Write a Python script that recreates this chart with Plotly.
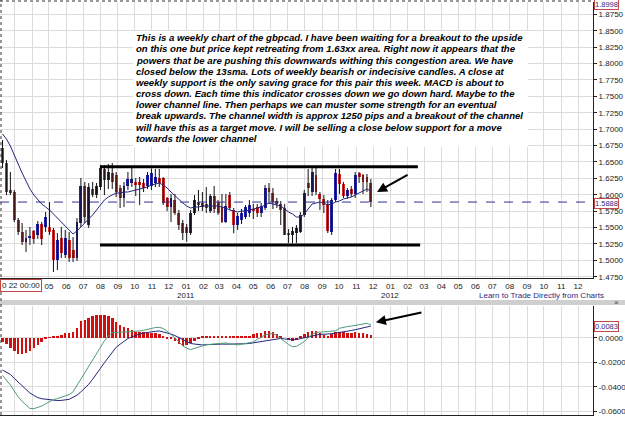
import plotly.graph_objects as go
import pandas as pd

# ---------------- data ----------------
week_start = "2010-02-07"
n_weeks = 95
weeks = pd.date_range(week_start, periods=n_weeks, freq="7D")

open_ = [1.6712, 1.6483, 1.6071, 1.6041, 1.5614, 1.5432, 1.5279, 1.5340, 1.5447, 1.5386,
         1.5553, 1.5508, 1.5508, 1.5462, 1.5005, 1.5340, 1.5081, 1.5310, 1.5157, 1.5035,
         1.5569, 1.6133, 1.5538, 1.6087, 1.5995, 1.6117, 1.6392, 1.6224, 1.6331, 1.6300,
         1.6102, 1.5950, 1.6133, 1.6178, 1.6194, 1.6194, 1.6178, 1.6133, 1.6133, 1.6178,
         1.6255, 1.6255, 1.5950, 1.5812, 1.5919, 1.5721, 1.5569, 1.5508, 1.5416, 1.5721,
         1.5889, 1.5873, 1.5858, 1.5751, 1.5980, 1.5889, 1.5812, 1.5584, 1.5995, 1.5767,
         1.5538, 1.5614, 1.5660, 1.5721, 1.5782, 1.5812, 1.5721, 1.5797, 1.6102, 1.6026,
         1.5904, 1.5858, 1.5797, 1.5416, 1.5386, 1.5416, 1.5432, 1.5691, 1.6178, 1.6041,
         1.6300, 1.6011, 1.5935, 1.5858, 1.5432, 1.5919, 1.6316, 1.6163, 1.5980, 1.6087,
         1.6011, 1.6331, 1.6300, 1.6270, 1.6178]
high = [1.6834, 1.6529, 1.6346, 1.6071, 1.5645, 1.5568, 1.5462, 1.5508, 1.5462, 1.5599,
        1.5584, 1.5736, 1.5889, 1.5493, 1.5416, 1.5508, 1.5462, 1.5432, 1.5355, 1.5645,
        1.6255, 1.6194, 1.6178, 1.6194, 1.6178, 1.6453, 1.6453, 1.6468, 1.6483, 1.6346,
        1.6148, 1.6194, 1.6346, 1.6407, 1.6255, 1.6270, 1.6239, 1.6346, 1.6400, 1.6392,
        1.6392, 1.6270, 1.5965, 1.6011, 1.6011, 1.5767, 1.5614, 1.5553, 1.5767, 1.5995,
        1.6072, 1.6041, 1.6117, 1.6011, 1.6133, 1.5919, 1.6011, 1.6011, 1.6041, 1.5797,
        1.5721, 1.5782, 1.5843, 1.5919, 1.5858, 1.5858, 1.5873, 1.6148, 1.6178, 1.6102,
        1.5950, 1.5904, 1.5858, 1.5477, 1.5508, 1.5538, 1.5736, 1.6072, 1.6392, 1.6407,
        1.6407, 1.6041, 1.5995, 1.5919, 1.5950, 1.6392, 1.6392, 1.6194, 1.6102, 1.6133,
        1.6346, 1.6346, 1.6316, 1.6316, 1.6239]
low = [1.6407, 1.5995, 1.5995, 1.5584, 1.5386, 1.5233, 1.5127, 1.5233, 1.5249, 1.5325,
       1.5233, 1.5432, 1.5386, 1.4822, 1.4852, 1.5035, 1.5035, 1.4974, 1.4974, 1.4990,
       1.5508, 1.5569, 1.5493, 1.5965, 1.5950, 1.6072, 1.5995, 1.6087, 1.6087, 1.5965,
       1.5797, 1.5812, 1.6072, 1.6117, 1.5980, 1.5843, 1.6041, 1.6087, 1.6072, 1.6117,
       1.6117, 1.5843, 1.5751, 1.5584, 1.5691, 1.5462, 1.5310, 1.5284, 1.5386, 1.5691,
       1.5751, 1.5751, 1.5721, 1.5721, 1.5721, 1.5691, 1.5569, 1.5569, 1.5767, 1.5411,
       1.5462, 1.5553, 1.5630, 1.5660, 1.5630, 1.5660, 1.5660, 1.5767, 1.5858, 1.5782,
       1.5797, 1.5538, 1.5386, 1.5264, 1.5259, 1.5264, 1.5416, 1.5660, 1.5980, 1.5980,
       1.5995, 1.5767, 1.5721, 1.5416, 1.5386, 1.5889, 1.6011, 1.5950, 1.5935, 1.5965,
       1.5950, 1.6178, 1.6011, 1.6041, 1.5812]
close = [1.6483, 1.6041, 1.6026, 1.5614, 1.5432, 1.5279, 1.5340, 1.5371, 1.5325, 1.5553,
         1.5325, 1.5660, 1.5432, 1.5005, 1.5310, 1.5112, 1.5340, 1.5035, 1.5035, 1.5584,
         1.6133, 1.5660, 1.6117, 1.5995, 1.6133, 1.6407, 1.6224, 1.6346, 1.6194, 1.6041,
         1.5950, 1.6133, 1.6239, 1.6239, 1.6148, 1.6148, 1.6102, 1.6300, 1.6331, 1.6270,
         1.6178, 1.5870, 1.5812, 1.5950, 1.5721, 1.5538, 1.5416, 1.5416, 1.5721, 1.5919,
         1.5843, 1.5812, 1.5797, 1.5980, 1.5782, 1.5721, 1.5584, 1.5827, 1.5797, 1.5538,
         1.5675, 1.5721, 1.5812, 1.5843, 1.5751, 1.5721, 1.5827, 1.6102, 1.6041, 1.5889,
         1.5858, 1.5767, 1.5386, 1.5386, 1.5447, 1.5493, 1.5691, 1.6026, 1.6102, 1.6346,
         1.6041, 1.5935, 1.5843, 1.5447, 1.5919, 1.6326, 1.6163, 1.5980, 1.6072, 1.6011,
         1.6300, 1.6270, 1.6194, 1.6194, 1.5888]
sma13 = [1.6925, 1.6849, 1.6742, 1.6605, 1.6453, 1.6331, 1.6209, 1.6087, 1.5995, 1.5919,
         1.5858, 1.5812, 1.5767, 1.5706, 1.5645, 1.5584, 1.5523, 1.5462, 1.5401, 1.5447,
         1.5508, 1.5553, 1.5614, 1.5691, 1.5767, 1.5843, 1.5919, 1.5965, 1.5995, 1.6026,
         1.6026, 1.6041, 1.6041, 1.6057, 1.6072, 1.6087, 1.6102, 1.6117, 1.6148, 1.6163,
         1.6178, 1.6148, 1.6102, 1.6041, 1.5980, 1.5919, 1.5873, 1.5828, 1.5797, 1.5812,
         1.5812, 1.5828, 1.5828, 1.5828, 1.5828, 1.5828, 1.5812, 1.5797, 1.5767, 1.5751,
         1.5736, 1.5751, 1.5751, 1.5767, 1.5782, 1.5797, 1.5812, 1.5843, 1.5873, 1.5858,
         1.5843, 1.5828, 1.5782, 1.5736, 1.5706, 1.5660, 1.5660, 1.5706, 1.5782, 1.5858,
         1.5873, 1.5889, 1.5873, 1.5843, 1.5858, 1.5889, 1.5904, 1.5935, 1.5950, 1.5965,
         1.5995, 1.6026, 1.6057, 1.6087, 1.6057]
macd_hist = [-0.0034, -0.0048, -0.0081, -0.0107, -0.0130, -0.0135, -0.0128, -0.0108, -0.0083, -0.0060,
             -0.0036, -0.0014, -0.0001, 0.0008, 0.0015, 0.0024, 0.0040, 0.0040, 0.0050, 0.0077,
             0.0134, 0.0143, 0.0162, 0.0175, 0.0184, 0.0189, 0.0188, 0.0176, 0.0160, 0.0126,
             0.0102, 0.0090, 0.0080, 0.0064, 0.0045, 0.0043, 0.0044, 0.0041, 0.0041, 0.0035,
             0.0031, 0.0018, -0.0004, -0.0014, -0.0030, -0.0052, -0.0069, -0.0062, -0.0040, -0.0025,
             -0.0008, 0.0008, 0.0012, 0.0012, 0.0012, 0.0014, 0.0012, 0.0012, 0.0014, 0.0012,
             0.0014, 0.0016, 0.0016, 0.0018, 0.0027, 0.0035, 0.0041, 0.0053, 0.0054, 0.0044,
             0.0033, 0.0018, 0.0000, -0.0017, -0.0023, -0.0018, 0.0008, 0.0032, 0.0050, 0.0057,
             0.0054, 0.0040, 0.0022, 0.0017, 0.0033, 0.0047, 0.0049, 0.0043, 0.0041, 0.0041,
             0.0044, 0.0041, 0.0040, 0.0032, 0.0020]
macd_line = [-0.0308, -0.0345, -0.0386, -0.0435, -0.0483, -0.0519, -0.0551, -0.0578, -0.0579, -0.0569,
             -0.0558, -0.0540, -0.0521, -0.0505, -0.0497, -0.0487, -0.0478, -0.0465, -0.0442, -0.0389,
             -0.0335, -0.0282, -0.0230, -0.0176, -0.0122, -0.0072, -0.0026, 0.0015, 0.0041, 0.0043,
             0.0044, 0.0046, 0.0047, 0.0049, 0.0052, 0.0055, 0.0060, 0.0068, 0.0076, 0.0083,
             0.0084, 0.0076, 0.0052, 0.0029, -0.0001, -0.0033, -0.0066, -0.0086, -0.0097, -0.0087,
             -0.0076, -0.0065, -0.0058, -0.0054, -0.0050, -0.0046, -0.0043, -0.0043, -0.0050, -0.0055,
             -0.0059, -0.0053, -0.0047, -0.0041, -0.0035, -0.0014, 0.0006, 0.0023, 0.0029, 0.0034,
             0.0017, -0.0009, -0.0035, -0.0055, -0.0074, -0.0071, -0.0052, -0.0031, 0.0001, 0.0026,
             0.0043, 0.0046, 0.0049, 0.0049, 0.0049, 0.0056, 0.0077, 0.0087, 0.0091, 0.0095,
             0.0102, 0.0109, 0.0113, 0.0117, 0.0104]
signal_line = [-0.0264, -0.0280, -0.0300, -0.0332, -0.0364, -0.0394, -0.0424, -0.0452, -0.0471, -0.0489,
               -0.0498, -0.0503, -0.0508, -0.0511, -0.0513, -0.0512, -0.0507, -0.0503, -0.0486, -0.0469,
               -0.0442, -0.0415, -0.0380, -0.0339, -0.0299, -0.0250, -0.0204, -0.0160, -0.0118, -0.0078,
               -0.0053, -0.0027, -0.0007, 0.0007, 0.0021, 0.0030, 0.0037, 0.0045, 0.0048, 0.0052,
               0.0055, 0.0047, 0.0040, 0.0030, 0.0017, 0.0004, -0.0014, -0.0033, -0.0047, -0.0052,
               -0.0057, -0.0059, -0.0057, -0.0055, -0.0053, -0.0051, -0.0052, -0.0053, -0.0053, -0.0054,
               -0.0053, -0.0051, -0.0049, -0.0047, -0.0042, -0.0036, -0.0029, -0.0023, -0.0017, -0.0013,
               -0.0009, -0.0006, -0.0010, -0.0016, -0.0018, -0.0015, -0.0008, -0.0001, 0.0006, 0.0015,
               0.0025, 0.0028, 0.0028, 0.0029, 0.0033, 0.0038, 0.0042, 0.0047, 0.0053, 0.0059,
               0.0065, 0.0072, 0.0080, 0.0087, 0.0095]

last_price = 1.5888
last_macd_label = "0.0083"
top_price_label = "1.8998"

channel_levels = [1.6427, 1.5233]
channel_starts = ["2010-07-31", "2010-07-31"]
channel_ends = ["2012-02-19", "2012-02-23"]

# month tick labels shown (03 and 04 of 2010 sit under the date box)
month_ticks = pd.date_range("2010-05-01", "2012-12-01", freq="MS")
month_tick_text = [d.strftime("%m") for d in month_ticks]

price_ticks = [1.475, 1.500, 1.525, 1.550, 1.575, 1.600, 1.625, 1.650, 1.675, 1.700,
               1.725, 1.750, 1.775, 1.800, 1.825, 1.850, 1.875]
price_tick_text = ["1.4750", "1.5000", "1.5250", "1.5500", "1.5750", "1.6000", "1.6250",
                   "1.6500", "1.6750", "1.7000", "1.7250", "1.7500", "1.7750", "1.8000",
                   "1.8250", "1.8500", "1.8750"]
macd_ticks = [0.0, -0.02, -0.04, -0.06]
macd_tick_text = ["0.0000", "-0.0200", "-0.0400", "-0.0600"]

year_labels = ["2011", "2012"]
year_dates = ["2011-01-01", "2012-01-01"]

comment_lines = [
    "This is a weekly chart of the gbpcad. I have been waiting for a breakout to the upside",
    "on this one but price kept retreating from 1.63xx area. Right now it appears that the",
    "powers that be are pushing this downwards withing this congestion area. We have",
    "closed below the 13sma. Lots of weekly bearish or indecisive candles. A close at",
    "weekly support is the only saving grace for this pair this week. MACD is about to",
    "cross down. Each time this indicator crosses down we go down hard. Maybe to the",
    "lower channel line. Then perhaps we can muster some strength for an eventual",
    "break upwards. The channel width is approx 1250 pips and a breakout of the channel",
    "will have this as a target move. I will be selling a close below support for a move",
    "towards the lower channel",
]

# arrow heads (data coordinates)
price_arrow = ("2011-12-08", 1.6041)
macd_arrow = ("2011-12-06", 0.0126)

# ---------------- layout helpers ----------------
W, H = 625, 421
ML, MR, MT, MB = 0, 32, 2, 6
PW = W - ML - MR
PH = H - MT - MB


def px(x):
    return (x - ML) / PW


def py(y):
    return (H - MB - y) / PH


BLUE = "#2323a8"
RED = "#d42a2a"
NAVY = "#25257a"
GRID = "#dcdcdc"
FONT = "Liberation Sans, Arial, sans-serif"
X_RANGE = ["2010-02-02 12:00", "2012-12-27 19:00"]

fig = go.Figure()

# wicks
wx, wy = [], []
for d, h, l in zip(weeks, high, low):
    wx += [d, d, None]
    wy += [l, h, None]
fig.add_trace(go.Scatter(x=wx, y=wy, mode="lines", line=dict(color="#111111", width=1),
                         xaxis="x", yaxis="y", hoverinfo="skip", showlegend=False))

# bodies
up_x, up_b, up_h, dn_x, dn_b, dn_h = [], [], [], [], [], []
for d, o, c in zip(weeks, open_, close):
    if c >= o:
        up_x.append(d); up_b.append(o); up_h.append(c - o)
    else:
        dn_x.append(d); dn_b.append(c); dn_h.append(o - c)
bw = 5.2 * 86400000
fig.add_trace(go.Bar(x=up_x, y=up_h, base=up_b, width=bw, marker=dict(color=BLUE, line=dict(width=0)),
                     xaxis="x", yaxis="y", showlegend=False))
fig.add_trace(go.Bar(x=dn_x, y=dn_h, base=dn_b, width=bw, marker=dict(color=RED, line=dict(width=0)),
                     xaxis="x", yaxis="y", showlegend=False))

# 13 SMA
fig.add_trace(go.Scatter(x=weeks, y=sma13, mode="lines", line=dict(color=NAVY, width=1),
                         xaxis="x", yaxis="y", showlegend=False))

# MACD panel
fig.add_trace(go.Bar(x=weeks, y=macd_hist, width=4.5 * 86400000,
                     marker=dict(color="#d01010", line=dict(width=0)),
                     xaxis="x2", yaxis="y2", showlegend=False))
fig.add_trace(go.Scatter(x=weeks, y=signal_line, mode="lines", line=dict(color=NAVY, width=1),
                         xaxis="x2", yaxis="y2", showlegend=False))
fig.add_trace(go.Scatter(x=weeks, y=macd_line, mode="lines", line=dict(color="#4f9a78", width=1),
                         xaxis="x2", yaxis="y2", showlegend=False))

shapes = []
# channel lines
for lvl, s, e in zip(channel_levels, channel_starts, channel_ends):
    shapes.append(dict(type="line", xref="x", yref="y", x0=s, x1=e, y0=lvl, y1=lvl,
                       line=dict(color="black", width=3)))
# last price dashed line
shapes.append(dict(type="line", xref="paper", yref="y", x0=0, x1=1, y0=last_price, y1=last_price,
                   line=dict(color="#303090", width=1, dash="dash")))
# white backdrop for the comment
shapes.append(dict(type="rect", xref="paper", yref="paper", x0=px(133), x1=px(528),
                   y0=py(147), y1=py(31), fillcolor="white", line=dict(width=0), layer="above"))
# separator band between panels
shapes.append(dict(type="rect", xref="paper", yref="paper", x0=0, x1=W / PW,
                   y0=py(305), y1=py(300), fillcolor="#cfcfcf", line=dict(width=0)))
# dashed borders left/top
shapes.append(dict(type="line", xref="paper", yref="paper", x0=px(1), x1=px(1), y0=py(415), y1=py(0),
                   line=dict(color="#333333", width=1, dash="dot")))
shapes.append(dict(type="line", xref="paper", yref="paper", x0=0, x1=1, y0=py(1), y1=py(1),
                   line=dict(color="#333333", width=1, dash="dot")))

annotations = []
for k, line in enumerate(comment_lines):
    annotations.append(dict(xref="paper", yref="paper", x=px(134), y=py(37.7 + 11.18 * k),
                            xanchor="left", yanchor="middle", showarrow=False, text=line,
                            font=dict(family=FONT, size=9.6, color="black", weight="bold",
                                      style="italic")))
# arrows
annotations.append(dict(xref="x", yref="y", x=price_arrow[0], y=price_arrow[1], ax=32, ay=-18,
                        showarrow=True, arrowhead=2, arrowsize=1, arrowwidth=2, arrowcolor="black",
                        text=""))
annotations.append(dict(xref="x2", yref="y2", x=macd_arrow[0], y=macd_arrow[1], ax=47, ay=-10,
                        showarrow=True, arrowhead=2, arrowsize=1, arrowwidth=2, arrowcolor="black",
                        text=""))
# year labels
for lab, d in zip(year_labels, year_dates):
    annotations.append(dict(xref="x", yref="paper", x=d, y=py(295), text=lab, showarrow=False,
                            xanchor="center", yanchor="middle",
                            font=dict(family=FONT, size=8, color="#222222")))
annotations.append(dict(xref="paper", yref="paper", x=px(541), y=py(295),
                        xanchor="center", yanchor="middle",
                        text="Learn to Trade Directly from Charts", showarrow=False,
                        font=dict(family=FONT, size=8, color="#2a2a88")))
# date box on the left
annotations.append(dict(xref="paper", yref="paper", x=px(0), y=py(285.5), xanchor="left",
                        yanchor="middle", text="0 22 00:00", showarrow=False, bgcolor="white",
                        bordercolor="#c04848", borderwidth=1, borderpad=1,
                        font=dict(family=FONT, size=8, color="#222222")))
# value boxes on the right axis
for lab, yy in [(str(last_price), 203), (last_macd_label, 326), (top_price_label, 5)]:
    annotations.append(dict(xref="paper", yref="paper", x=px(594), y=py(yy), xanchor="left",
                            yanchor="middle", text=lab, showarrow=False, bgcolor="white",
                            bordercolor="#c04848", borderwidth=1, borderpad=0,
                            font=dict(family=FONT, size=7.5, color="#2a2a88")))
annotations.append(dict(xref="paper", yref="paper", x=px(616), y=py(302.5), text="×", showarrow=False,
                        xanchor="center", yanchor="middle",
                        font=dict(family=FONT, size=8, color="#444444")))

axis_x = dict(type="date", range=X_RANGE, tickvals=month_ticks, ticktext=month_tick_text,
              showgrid=True, gridcolor=GRID, gridwidth=1, showline=True, linecolor="#222222",
              linewidth=1, ticks="", zeroline=False,
              minor=dict(dtick="M1", tick0="2010-01-01", showgrid=True, gridcolor=GRID, gridwidth=1),
              tickfont=dict(family=FONT, size=8, color="#222222"))

fig.update_layout(
    width=W, height=H,
    margin=dict(l=ML, r=MR, t=MT, b=MB),
    paper_bgcolor="white", plot_bgcolor="white",
    barmode="overlay", bargap=0, showlegend=False,
    xaxis=dict(axis_x, domain=[0, 1], anchor="y", ticklabelstandoff=0),
    xaxis2=dict(axis_x, domain=[0, 1], anchor="y2", showticklabels=False),
    yaxis=dict(domain=[py(278), 1], range=[1.47302, 1.89375], side="right", anchor="x",
               tickvals=price_ticks, ticktext=price_tick_text, ticks="outside", ticklen=3,
               tickcolor="#222222", showline=True, linecolor="#222222", showgrid=True,
               gridcolor=GRID, zeroline=False, tickfont=dict(family=FONT, size=8, color="#222222")),
    yaxis2=dict(domain=[0, py(306)], range=[-0.0631, 0.02588], side="right", anchor="x2",
                tickvals=macd_ticks, ticktext=macd_tick_text, ticks="outside", ticklen=3,
                tickcolor="#222222", showline=True, linecolor="#222222", showgrid=True,
                gridcolor=GRID, zeroline=False, tickfont=dict(family=FONT, size=8, color="#222222")),
    shapes=shapes, annotations=annotations,
)

fig.write_html("out.html")
